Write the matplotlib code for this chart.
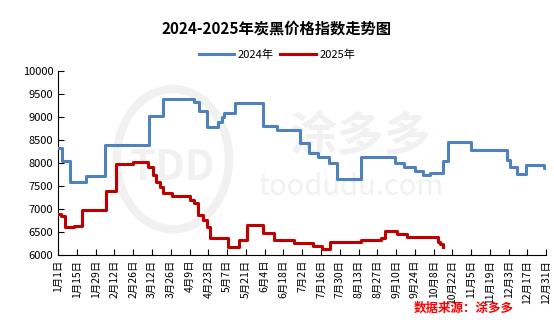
import matplotlib.pyplot as plt
import matplotlib.patches as mpatches
import pandas as pd

plt.rcParams['font.family'] = ['Noto Sans CJK SC', 'DejaVu Sans']

# 2024 series: date of change (month-day) and index value from that day
dates_2024 = ["01-01", "01-04", "01-10", "01-22", "02-05", "03-10", "03-20", "04-12",
              "04-16", "04-22", "04-30", "05-03", "05-05", "05-13", "06-03", "06-13",
              "06-30", "07-07", "07-14", "07-22", "07-28", "08-15", "09-09", "09-16",
              "09-24", "09-30", "10-05", "10-15", "10-19", "11-05", "12-02", "12-04",
              "12-09", "12-16", "12-29", "12-31"]
values_2024 = [8330, 8050, 7580, 7720, 8380, 9010, 9380, 9330,
               9130, 8780, 8880, 9000, 9090, 9290, 8790, 8710,
               8430, 8220, 8130, 8000, 7640, 8120, 8000, 7920,
               7830, 7740, 7790, 8030, 8460, 8270, 8060, 7920,
               7760, 7950, 7880, 7880]

# 2025 series
dates_2025 = ["01-01", "01-03", "01-06", "01-13", "01-19", "02-06", "02-13", "02-26",
              "03-09", "03-13", "03-15", "03-18", "03-20", "03-27", "04-09", "04-12",
              "04-15", "04-19", "04-22", "04-24", "05-08", "05-16", "05-22", "06-03",
              "06-11", "06-26", "07-10", "07-17", "07-23", "08-15", "08-30", "09-02",
              "09-11", "09-18", "10-11", "10-13", "10-15"]
values_2025 = [6890, 6850, 6600, 6630, 6970, 7400, 7980, 8020,
               7920, 7740, 7590, 7480, 7340, 7280, 7190, 7120,
               6870, 6760, 6610, 6370, 6170, 6320, 6650, 6470,
               6320, 6270, 6190, 6130, 6290, 6320, 6360, 6520,
               6460, 6400, 6290, 6230, 6170]

start = pd.Timestamp("2025-01-01")
def to_day(md):
    return [(pd.Timestamp("2025-" + d) - start).days for d in md]

tick_days = list(range(0, 365, 14))
tick_labels = [f"{(start + pd.Timedelta(days=d)).month}月{(start + pd.Timedelta(days=d)).day}日"
               for d in tick_days]

fig = plt.figure(figsize=(5.54, 3.30), dpi=100)
ax = fig.add_axes([0.105, 0.227, 0.881, 0.559])

# watermark
wm = '#F1F1F1'
ax.add_patch(mpatches.Ellipse((0.235, 0.52), 0.23, 0.76, transform=ax.transAxes,
                              fill=False, ec=wm, lw=6, zorder=0))
ax.text(0.235, 0.47, "TDD", transform=ax.transAxes, ha='center', va='center',
        fontsize=30, fontweight='bold', color=wm, zorder=0)
ax.text(0.62, 0.64, "涂多多", transform=ax.transAxes, ha='center', va='center',
        fontsize=34, fontweight='bold', color=wm, zorder=0)
ax.text(0.60, 0.37, "toodudu.com", transform=ax.transAxes, ha='center', va='center',
        fontsize=21, color=wm, zorder=0)

ax.plot(to_day(dates_2024), values_2024, drawstyle='steps-post', color='#4F81BD',
        lw=2.2, label='2024年', zorder=3)
ax.plot(to_day(dates_2025), values_2025, drawstyle='steps-post', color='#C00000',
        lw=2.2, label='2025年', zorder=3)

ax.set_xlim(0, 364)
ax.set_ylim(6000, 10000)
ax.set_yticks(range(6000, 10001, 500))
ax.set_xticks(tick_days)
ax.set_xticklabels(tick_labels, rotation=90, fontsize=7.5)
ax.tick_params(axis='y', labelsize=8, direction='in', length=4)
ax.tick_params(axis='x', direction='in', length=4)
for s in ['top', 'right']:
    ax.spines[s].set_visible(False)

fig.text(0.5, 0.915, "2024-2025年炭黑价格指数走势图", ha='center', va='center',
         fontsize=11, fontweight='bold')
fig.legend(loc='center', bbox_to_anchor=(0.5, 0.835), ncol=2, frameon=False,
           fontsize=8, handlelength=3.2, columnspacing=0.6, handletextpad=0.3)
fig.text(0.838, 0.067, "数据来源：涂多多", ha='center', va='center', fontsize=9,
         color='red', fontweight='bold', style='italic')

fig.savefig("out.png", dpi=100)
